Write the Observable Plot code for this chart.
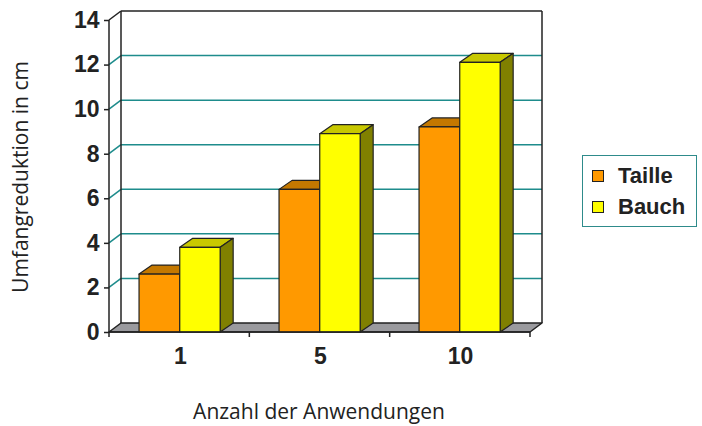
<!DOCTYPE html>
<html><head><meta charset="utf-8">
<script src="https://cdn.jsdelivr.net/npm/d3@7"></script>
<script src="https://cdn.jsdelivr.net/npm/@observablehq/plot@0.6"></script>
<style>
body{margin:0;background:#fff;}
#wrap{position:relative;width:702px;height:426px;overflow:hidden;}
#wrap svg{position:absolute;left:0;top:0;}
.ytitle{position:absolute;left:20px;top:177px;transform:translate(-50%,-50%) rotate(-90deg);white-space:nowrap;font-family:"Open Sans",sans-serif;font-size:21px;color:#222;}
.xtitle{position:absolute;left:319px;top:411px;transform:translate(-50%,-50%);white-space:nowrap;font-family:"Open Sans",sans-serif;font-size:21px;color:#222;}
.legend{position:absolute;left:582px;top:155px;width:115px;height:72px;border:1.5px solid #2E8B8B;box-sizing:border-box;font-family:"Liberation Sans",Arial,sans-serif;font-weight:bold;font-size:22px;color:#222;}
.item{position:absolute;left:9px;display:flex;align-items:center;line-height:26px;}
.sw{width:10px;height:10px;border:1px solid #222;margin-right:14px;}
</style></head><body><div id="wrap"></div>
<script>
const categories = ["1", "5", "10"];
const series = ["Taille", "Bauch"];
const taille = [2.6, 6.4, 9.2];
const bauch = [3.8, 8.9, 12.1];
const yTicks = [0, 2, 4, 6, 8, 10, 12, 14];
const faceColors = {
  Taille: {front: "#FF9900", top: "#C47800", side: "#7F5000"},
  Bauch: {front: "#FFFF00", top: "#C8C800", side: "#808000"}
};
const barSpan = {Taille: [0.207, 0.497], Bauch: [0.497, 0.785]};

const data = categories.flatMap((c, i) => [
  {cat: c, series: "Taille", value: taille[i]},
  {cat: c, series: "Bauch", value: bauch[i]}
]);

const WX = 12, WY = 9;   // wall depth
const BX = 13, BY = 9;   // bar depth
const INK = "#222";
const GRID = "#1E8C8C";

function scene(index, scales, values, dim) {
  const x = scales.x, y = scales.y;
  const x0 = dim.marginLeft, x1 = dim.width - dim.marginRight;
  const bw = (x1 - x0) / categories.length;
  const y0 = y(0), yTop = y(yTicks[yTicks.length - 1]);
  const g = d3.create("svg:g");
  const poly = (pts, fill, stroke, sw) => g.append("polygon")
    .attr("points", pts.map(p => p.join(",")).join(" "))
    .attr("fill", fill).attr("stroke", stroke).attr("stroke-width", sw).attr("stroke-linejoin", "round");
  const line = (a, b, stroke, sw) => g.append("line")
    .attr("x1", a[0]).attr("y1", a[1]).attr("x2", b[0]).attr("y2", b[1])
    .attr("stroke", stroke).attr("stroke-width", sw);
  for (const t of yTicks) {
    if (t === 0) continue;
    const yy = y(t);
    const c = t === yTicks[yTicks.length - 1] ? INK : GRID;
    line([x0, yy], [x0 + WX, yy - WY], c, 1.5);
    line([x0 + WX, yy - WY], [x1 + WX, yy - WY], c, 1.5);
  }
  line([x0 + WX, yTop - WY], [x0 + WX, y0 - WY], INK, 1.5);
  line([x1 + WX, yTop - WY], [x1 + WX, y0 - WY], INK, 1.5);
  poly([[x0, y0], [x1, y0], [x1 + WX, y0 - WY], [x0 + WX, y0 - WY]], "#9A9A9E", INK, 1.5);
  for (const c of categories) {
    const bx = x(c);
    for (const s of series) {
      const d = data.find(e => e.cat === c && e.series === s);
      const l = bx + barSpan[s][0] * bw, r = bx + barSpan[s][1] * bw;
      const yt = y(d.value);
      const col = faceColors[s];
      poly([[l, yt], [r, yt], [r + BX, yt - BY], [l + BX, yt - BY]], col.top, INK, 1.2);
      poly([[r, yt], [r + BX, yt - BY], [r + BX, y0 - BY], [r, y0]], col.side, INK, 1.2);
      poly([[l, yt], [r, yt], [r, y0], [l, y0]], col.front, INK, 1.2);
    }
  }
  line([x0, yTop], [x0, y0], INK, 1.5);
  line([x0, y0], [x1, y0], INK, 1.5);
  for (let i = 0; i <= categories.length; i++) {
    const xx = x0 + i * bw;
    line([xx, y0], [xx, y0 + 5], INK, 1.5);
  }
  return g.node();
}

const chart = Plot.plot({
  width: 702,
  height: 426,
  marginLeft: 109,
  marginRight: 172,
  marginTop: 20,
  marginBottom: 94,
  style: {fontFamily: "'Liberation Sans', Arial, sans-serif", color: INK, background: "white"},
  x: {type: "band", domain: categories, padding: 0},
  y: {domain: [0, 14]},
  marks: [
    scene,
    Plot.axisY({ticks: yTicks, tickSize: 5, tickPadding: 5, fontSize: 23, fontWeight: "bold", label: null, strokeWidth: 1.5, stroke: INK}),
    Plot.axisX({tickSize: 0, tickPadding: 15, fontSize: 23, fontWeight: "bold", label: null})
  ]
});

const wrap = document.getElementById("wrap");
wrap.appendChild(chart);
wrap.insertAdjacentHTML("beforeend",
  `<div class="ytitle">Umfangreduktion in cm</div>
   <div class="xtitle">Anzahl der Anwendungen</div>
   <div class="legend">
     <div class="item" style="top:7px"><div class="sw" style="background:${faceColors.Taille.front}"></div>${series[0]}</div>
     <div class="item" style="top:38px"><div class="sw" style="background:${faceColors.Bauch.front}"></div>${series[1]}</div>
   </div>`);
</script>
</body></html>
